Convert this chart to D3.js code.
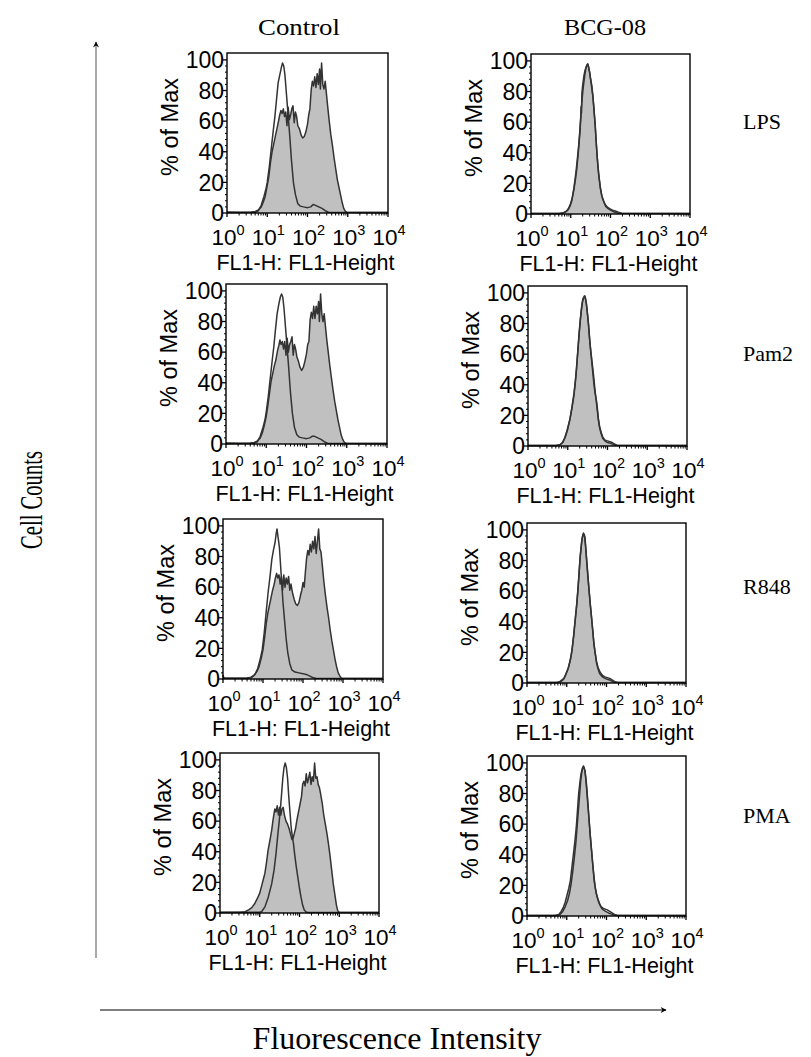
<!DOCTYPE html>
<html><head><meta charset="utf-8">
<script src="https://cdn.jsdelivr.net/npm/d3@7"></script>
<style>body{margin:0;background:#fff;} svg{display:block;}</style>
</head><body>
<svg id="chart" width="811" height="1057"></svg>
<script>
// ---------------- data ----------------
const columns = ["Control", "BCG-08"];
const rowLabels = ["LPS", "Pam2", "R848", "PMA"];
const yTicks = [0, 20, 40, 60, 80, 100];
const xTickExponents = [0, 1, 2, 3, 4];
const xAxisTitle = "FL1-H: FL1-Height";
const yAxisTitle = "% of Max";
const leftTitle = "Cell Counts";
const bottomTitle = "Fluorescence Intensity";

// each series: [log10 FL1-H, % of max]
const lpsControlShaded = [[0,0.6],[0.3,0.5],[0.6,0.6],[0.7,1],[0.78,2],[0.85,4],[0.9,7],[0.95,11],[1.0,18],[1.04,24],[1.08,33],[1.12,40],[1.16,45],[1.2,50],[1.24,55],[1.28,60],[1.31,64],[1.34,67],[1.37,65],[1.4,68],[1.43,63],[1.46,66],[1.49,57],[1.52,69],[1.55,61],[1.58,64],[1.61,68],[1.64,70],[1.67,59],[1.7,66],[1.73,63],[1.76,57],[1.8,55],[1.84,51],[1.88,49],[1.92,50],[1.96,53],[2.0,58],[2.03,64],[2.06,68],[2.09,80],[2.12,86],[2.15,83],[2.18,89],[2.21,82],[2.24,91],[2.27,84],[2.3,94],[2.32,81],[2.35,98],[2.38,84],[2.41,81],[2.44,86],[2.47,78],[2.5,70],[2.54,60],[2.58,51],[2.62,44],[2.66,36],[2.7,29],[2.74,22],[2.78,17],[2.82,12],[2.86,7],[2.9,3],[2.94,1],[2.98,0.5],[3.3,0.4],[4,0.4]];
const lpsControlOpen = [[0,0.4],[0.7,0.5],[0.78,1.5],[0.85,5],[0.92,11],[0.97,16],[1.0,20],[1.05,30],[1.1,42],[1.15,54],[1.19,63],[1.23,74],[1.27,85],[1.31,90],[1.35,95],[1.38,98],[1.41,96],[1.44,90],[1.47,80],[1.5,70],[1.53,60],[1.56,50],[1.6,35],[1.65,20],[1.7,12],[1.76,6],[1.82,4.5],[1.9,4],[2.0,3.5],[2.08,4],[2.14,5.5],[2.2,5],[2.28,4],[2.36,3],[2.44,1.5],[2.52,0.5],[4,0.4]];

const pam2ControlShaded = [[0,0.6],[0.3,0.5],[0.6,0.6],[0.7,1],[0.78,2],[0.85,4],[0.9,7],[0.95,12],[1.0,18],[1.04,25],[1.08,33],[1.12,41],[1.16,46],[1.2,51],[1.24,55],[1.28,61],[1.31,64],[1.34,68],[1.37,65],[1.4,67],[1.43,62],[1.46,67],[1.49,58],[1.52,69],[1.55,60],[1.58,65],[1.61,67],[1.64,70],[1.67,58],[1.7,65],[1.73,62],[1.76,57],[1.8,54],[1.84,50],[1.88,48],[1.92,50],[1.96,54],[2.0,59],[2.03,65],[2.06,67],[2.09,81],[2.12,86],[2.15,82],[2.18,90],[2.21,82],[2.24,90],[2.27,85],[2.3,93],[2.32,80],[2.35,98],[2.38,85],[2.41,80],[2.44,85],[2.47,77],[2.5,69],[2.54,60],[2.58,51],[2.62,43],[2.66,35],[2.7,28],[2.74,22],[2.78,16],[2.82,11],[2.86,6],[2.9,3],[2.94,1],[2.98,0.5],[3.3,0.4],[4,0.4]];
const pam2ControlOpen = [[0,0.4],[0.7,0.5],[0.78,1.5],[0.85,5],[0.92,11],[0.97,16],[1.0,21],[1.05,31],[1.1,43],[1.15,55],[1.19,64],[1.23,75],[1.27,85],[1.31,91],[1.35,96],[1.38,98],[1.41,96],[1.44,89],[1.47,79],[1.5,69],[1.53,59],[1.56,49],[1.6,34],[1.65,20],[1.7,11],[1.76,6],[1.82,4.5],[1.9,4],[2.0,3.5],[2.08,4],[2.14,5],[2.2,5],[2.28,4],[2.36,3],[2.44,1.5],[2.52,0.5],[4,0.4]];

const r848ControlShaded = [[0,2.5],[0.02,0.6],[0.3,0.5],[0.6,0.6],[0.7,1.2],[0.78,2.5],[0.85,5],[0.9,8],[0.95,13],[1.0,19],[1.04,27],[1.08,36],[1.12,43],[1.16,48],[1.2,53],[1.24,58],[1.28,62],[1.31,66],[1.34,69],[1.37,66],[1.4,68],[1.43,62],[1.46,67],[1.49,58],[1.52,68],[1.55,60],[1.58,66],[1.61,62],[1.64,67],[1.67,58],[1.7,62],[1.74,56],[1.78,52],[1.82,49],[1.86,48],[1.9,50],[1.94,55],[1.97,58],[2.0,63],[2.03,60],[2.06,70],[2.09,79],[2.12,84],[2.15,81],[2.18,88],[2.21,83],[2.24,90],[2.27,85],[2.3,93],[2.33,82],[2.36,90],[2.39,98],[2.42,85],[2.45,83],[2.48,75],[2.52,64],[2.56,55],[2.6,47],[2.64,40],[2.68,32],[2.72,25],[2.76,19],[2.8,13],[2.84,8],[2.88,4],[2.92,2],[2.96,0.5],[3.3,0.4],[4,0.4]];
const r848ControlOpen = [[0,2.5],[0.02,0.5],[0.6,0.5],[0.72,1],[0.8,3],[0.87,7],[0.93,13],[0.98,19],[1.03,30],[1.08,44],[1.13,57],[1.18,68],[1.22,78],[1.26,84],[1.3,89],[1.33,95],[1.35,98],[1.38,92],[1.41,86],[1.44,74],[1.47,62],[1.5,50],[1.54,38],[1.58,26],[1.62,17],[1.67,10],[1.72,6],[1.8,4.5],[1.9,4],[2.0,3.5],[2.08,3],[2.16,2],[2.24,1],[2.32,0.5],[4,0.4]];

const pmaControlShaded = [[0,0.5],[0.5,0.5],[0.63,0.8],[0.72,2],[0.8,3.5],[0.87,6],[0.93,9],[1.0,13],[1.06,19],[1.13,26],[1.17,33],[1.21,41],[1.26,48],[1.3,54],[1.33,60],[1.36,65],[1.38,68],[1.41,66],[1.44,70],[1.47,64],[1.5,69],[1.53,64],[1.56,68],[1.59,69],[1.62,64],[1.66,60],[1.7,58],[1.74,55],[1.78,51],[1.81,48],[1.84,49],[1.87,52],[1.9,55],[1.93,60],[1.96,64],[1.99,68],[2.02,72],[2.05,76],[2.08,84],[2.11,86],[2.14,83],[2.17,91],[2.2,85],[2.23,88],[2.26,92],[2.29,84],[2.32,89],[2.35,86],[2.38,98],[2.41,88],[2.44,89],[2.47,84],[2.5,82],[2.53,78],[2.57,72],[2.61,64],[2.65,58],[2.69,52],[2.73,45],[2.77,37],[2.81,28],[2.85,19],[2.89,12],[2.93,5],[2.96,1.5],[3.0,0.5],[4,0.4]];
const pmaControlOpen = [[0,0.4],[1.0,0.5],[1.05,1],[1.13,4],[1.21,10],[1.3,19],[1.36,28],[1.41,39],[1.45,50],[1.49,60],[1.52,68],[1.55,78],[1.58,88],[1.61,95],[1.64,98],[1.67,95],[1.7,88],[1.73,76],[1.76,66],[1.79,56],[1.82,50],[1.85,45],[1.88,38],[1.92,30],[1.96,23],[2.0,16],[2.04,10],[2.08,5],[2.12,2],[2.16,0.8],[2.2,0.4],[4,0.4]];

const lpsBcgShaded = [[0,0.4],[0.7,0.4],[0.81,0.8],[0.88,1.5],[0.94,3],[0.98,5],[1.02,8],[1.05,12],[1.08,16],[1.12,23],[1.15,29],[1.19,40],[1.23,53],[1.27,70],[1.3,79],[1.32,84],[1.35,90],[1.38,95],[1.4,97],[1.43,98],[1.45,96],[1.48,92],[1.51,86],[1.53,82],[1.56,76],[1.59,66],[1.62,56],[1.65,43],[1.68,32],[1.71,24],[1.75,16],[1.79,11],[1.83,8],[1.88,5],[1.94,3.5],[2.0,2.5],[2.07,1.5],[2.14,1],[2.2,0.5],[4,0.4]];
const lpsBcgOpen = [[0,0.4],[0.75,0.4],[0.84,1],[0.9,2],[0.95,4],[1.0,7],[1.04,11],[1.08,17],[1.13,27],[1.17,37],[1.2,45],[1.23,55],[1.25,63],[1.26,70],[1.27,66],[1.28,79],[1.3,84],[1.33,90],[1.36,94],[1.39,96],[1.42,98],[1.44,97],[1.47,93],[1.5,88],[1.53,84],[1.55,79],[1.58,70],[1.61,60],[1.64,47],[1.67,36],[1.7,27],[1.74,18],[1.78,12],[1.82,9],[1.87,6],[1.92,4.5],[1.98,3.5],[2.05,2.5],[2.12,2],[2.2,1.2],[2.28,0.5],[4,0.4]];

const pam2BcgShaded = [[0,0.4],[0.7,0.4],[0.8,0.8],[0.86,2],[0.92,5],[0.98,10],[1.05,17],[1.1,24],[1.15,32],[1.19,41],[1.22,50],[1.25,61],[1.28,72],[1.31,81],[1.34,89],[1.36,93],[1.38,96],[1.41,97],[1.43,98],[1.45,96],[1.47,93],[1.49,88],[1.51,83],[1.53,77],[1.55,70],[1.58,62],[1.62,53],[1.65,46],[1.68,38],[1.71,31],[1.74,24],[1.77,17],[1.8,12],[1.84,8],[1.88,5],[1.93,3.5],[1.98,2.5],[2.05,2],[2.12,1.2],[2.2,0.5],[4,0.4]];
const pam2BcgOpen = [[0,0.4],[0.72,0.4],[0.82,1],[0.88,2.5],[0.94,6],[1.0,11],[1.06,18],[1.11,26],[1.16,35],[1.2,45],[1.23,54],[1.26,64],[1.29,74],[1.32,83],[1.35,90],[1.37,94],[1.4,97],[1.42,98],[1.44,97],[1.46,94],[1.48,90],[1.5,85],[1.52,80],[1.54,73],[1.57,64],[1.6,56],[1.63,48],[1.66,40],[1.69,34],[1.72,30],[1.74,26],[1.77,18],[1.8,13],[1.84,9],[1.88,6],[1.93,4],[1.98,3.5],[2.04,3],[2.1,2.5],[2.16,1.5],[2.24,0.5],[4,0.4]];

const r848BcgShaded = [[0,0.4],[0.75,0.4],[0.83,1],[0.88,2],[0.93,3],[0.98,6],[1.04,10],[1.09,15],[1.13,21],[1.17,30],[1.21,41],[1.25,51],[1.28,60],[1.31,71],[1.33,80],[1.36,88],[1.38,93],[1.4,96],[1.42,98],[1.44,97],[1.46,95],[1.48,88],[1.5,80],[1.53,70],[1.57,58],[1.6,49],[1.63,41],[1.66,33],[1.68,26],[1.72,19],[1.75,13],[1.79,9],[1.83,6],[1.9,4],[1.96,3],[2.02,2.5],[2.08,2],[2.15,1],[2.21,0.5],[4,0.4]];
const r848BcgOpen = [[0,0.4],[0.78,0.4],[0.86,1],[0.92,2.5],[0.97,5],[1.03,9],[1.08,14],[1.13,21],[1.17,30],[1.21,40],[1.25,51],[1.28,61],[1.31,72],[1.34,83],[1.37,91],[1.39,95],[1.41,97],[1.43,97],[1.45,95],[1.47,90],[1.5,81],[1.53,71],[1.56,61],[1.59,52],[1.62,44],[1.65,35],[1.68,27],[1.71,20],[1.75,14],[1.79,10],[1.84,7],[1.9,5],[1.96,4],[2.02,3.5],[2.08,3],[2.14,2],[2.2,1],[2.28,0.4],[4,0.4]];

const pmaBcgShaded = [[0,0.4],[0.7,0.4],[0.8,1],[0.86,3],[0.92,6],[0.96,9],[1.0,13],[1.05,18],[1.09,23],[1.13,32],[1.17,41],[1.21,50],[1.24,58],[1.27,69],[1.3,80],[1.33,87],[1.36,93],[1.39,96],[1.42,97],[1.44,96],[1.46,95],[1.49,88],[1.51,82],[1.54,71],[1.57,60],[1.6,50],[1.63,41],[1.66,32],[1.69,23],[1.72,18],[1.76,13],[1.8,10],[1.84,7],[1.88,5],[1.92,4],[1.98,3],[2.05,2],[2.13,1.2],[2.22,0.5],[4,0.4]];
const pmaBcgOpen = [[0,0.4],[0.75,0.4],[0.83,1],[0.9,3],[0.96,6],[1.02,10],[1.07,15],[1.11,21],[1.15,29],[1.19,38],[1.23,48],[1.26,58],[1.29,68],[1.32,78],[1.35,88],[1.38,94],[1.4,97],[1.42,98],[1.44,97],[1.46,94],[1.48,89],[1.5,83],[1.53,73],[1.56,63],[1.59,53],[1.62,44],[1.65,35],[1.68,27],[1.71,20],[1.74,15],[1.78,11],[1.82,8],[1.87,6],[1.92,5],[1.97,4.5],[2.02,4],[2.08,3],[2.14,2],[2.2,1],[2.28,0.4],[4,0.4]];

const panelSeries = [
  [[lpsControlShaded, lpsControlOpen], [lpsBcgShaded, lpsBcgOpen]],
  [[pam2ControlShaded, pam2ControlOpen], [pam2BcgShaded, pam2BcgOpen]],
  [[r848ControlShaded, r848ControlOpen], [r848BcgShaded, r848BcgOpen]],
  [[pmaControlShaded, pmaControlOpen], [pmaBcgShaded, pmaBcgOpen]]
];

// ---------------- layout ----------------
const panelLayout = [
  [{x:227, y:213, w:161}, {x:531, y:214, w:159}],
  [{x:226, y:444, w:161}, {x:528, y:446, w:159}],
  [{x:223, y:679, w:160}, {x:527, y:683, w:159}],
  [{x:220, y:913, w:159}, {x:527, y:916, w:159}]
];
const PH = 160;
const sansFont = "'Liberation Sans', Arial, sans-serif";
const serifFont = "'Liberation Serif', 'Times New Roman', serif";
const lineColor = "#333333";

const svg = d3.select("#chart");

function drawPanel(r, c) {
  const L = panelLayout[r][c];
  const [shaded, open] = panelSeries[r][c];
  const g = svg.append("g").attr("transform", `translate(${L.x},${L.y - PH})`);
  const x = d3.scaleLog().domain([1, 1e4]).range([0, L.w]);
  const y = d3.scaleLinear().domain([0, 104.5]).range([PH, 0]);
  const px = d => x(Math.pow(10, d[0]));
  const area = d3.area().x(px).y0(y(0)).y1(d => y(d[1]));
  const line = d3.line().x(px).y(d => y(d[1]));

  g.append("path").datum(shaded).attr("d", area).attr("fill", "#c0c0c0").attr("stroke", "none");
  g.append("path").datum(shaded).attr("d", line).attr("fill", "none").attr("stroke", lineColor).attr("stroke-width", 1.5).attr("stroke-linejoin", "round");
  g.append("path").datum(open).attr("d", line).attr("fill", "none").attr("stroke", lineColor).attr("stroke-width", 1.5).attr("stroke-linejoin", "round");

  // frame
  g.append("rect").attr("x", 0).attr("y", 0).attr("width", L.w).attr("height", PH)
    .attr("fill", "none").attr("stroke", "#000").attr("stroke-width", 1.4);

  // y axis
  const yMinor = d3.range(0, 101, 4).filter(v => v % 20 !== 0);
  const ya = g.append("g");
  ya.selectAll("line.minor").data(yMinor).join("line")
    .attr("x1", -2).attr("x2", 0).attr("y1", d => y(d)).attr("y2", d => y(d))
    .attr("stroke", "#000").attr("stroke-width", 1);
  ya.selectAll("line.major").data(yTicks).join("line")
    .attr("x1", -4).attr("x2", 0).attr("y1", d => y(d)).attr("y2", d => y(d))
    .attr("stroke", "#000").attr("stroke-width", 1.3);
  ya.selectAll("text").data(yTicks).join("text")
    .attr("x", -3).attr("y", d => y(d)).attr("dy", "0.36em")
    .attr("text-anchor", "end").attr("font-family", sansFont).attr("font-size", 23)
    .text(d => d);
  g.append("text").attr("transform", `translate(-49,${PH / 2 - 6}) rotate(-90)`)
    .attr("text-anchor", "middle").attr("font-family", sansFont).attr("font-size", 23.5)
    .text(yAxisTitle);

  // x axis
  const xa = g.append("g").attr("transform", `translate(0,${PH})`);
  const minor = [];
  for (let e = 0; e < 4; e++) for (let m = 2; m <= 9; m++) minor.push(m * Math.pow(10, e));
  xa.selectAll("line.minor").data(minor).join("line")
    .attr("x1", d => x(d)).attr("x2", d => x(d)).attr("y1", 0).attr("y2", 2.5)
    .attr("stroke", "#000").attr("stroke-width", 1);
  xa.selectAll("line.major").data(xTickExponents).join("line")
    .attr("x1", d => x(Math.pow(10, d))).attr("x2", d => x(Math.pow(10, d))).attr("y1", 0).attr("y2", 4)
    .attr("stroke", "#000").attr("stroke-width", 1.3);
  const lbl = xa.selectAll("text.tl").data(xTickExponents).join("text")
    .attr("class", "tl")
    .attr("x", d => x(Math.pow(10, d)) + 1).attr("y", 32)
    .attr("text-anchor", "middle").attr("font-family", sansFont).attr("font-size", 22.5);
  lbl.append("tspan").text("10");
  lbl.append("tspan").attr("dy", -10).attr("font-size", 14.5).text(d => d);
  xa.append("text").attr("x", L.w / 2 - 2).attr("y", 57)
    .attr("text-anchor", "middle").attr("font-family", sansFont).attr("font-size", 21.5)
    .text(xAxisTitle);
}

for (let r = 0; r < 4; r++) for (let c = 0; c < 2; c++) drawPanel(r, c);

// column titles
const colX = [299, 605];
const colW = [82, 82];
svg.selectAll("text.col").data(columns).join("text")
  .attr("x", (d, i) => colX[i]).attr("y", 35)
  .attr("text-anchor", "middle").attr("font-family", serifFont).attr("font-size", 24)
  .attr("textLength", (d, i) => colW[i]).attr("lengthAdjust", "spacingAndGlyphs")
  .text(d => d);

// row labels
const rowY = [129, 361, 594, 823];
svg.selectAll("text.row").data(rowLabels).join("text")
  .attr("x", 743).attr("y", (d, i) => rowY[i])
  .attr("font-family", serifFont).attr("font-size", 22)
  .text(d => d);

// arrows
const defs = svg.append("defs");
defs.append("marker").attr("id", "ahV").attr("viewBox", "0 0 10 10").attr("refX", 9).attr("refY", 5)
  .attr("markerWidth", 9).attr("markerHeight", 6).attr("markerUnits", "userSpaceOnUse").attr("orient", "auto")
  .append("path").attr("d", "M0,0 L10,5 L0,10 L3,5 Z").attr("fill", "#000");
defs.append("marker").attr("id", "ahH").attr("viewBox", "0 0 10 10").attr("refX", 9).attr("refY", 5)
  .attr("markerWidth", 10).attr("markerHeight", 6).attr("markerUnits", "userSpaceOnUse").attr("orient", "auto")
  .append("path").attr("d", "M0,0 L10,5 L0,10 L3,5 Z").attr("fill", "#000");

svg.append("line").attr("x1", 96).attr("y1", 958).attr("x2", 96).attr("y2", 42)
  .attr("stroke", "#a8a8a8").attr("stroke-width", 2).attr("marker-end", "url(#ahV)");
svg.append("line").attr("x1", 100).attr("y1", 1010).attr("x2", 666).attr("y2", 1010)
  .attr("stroke", "#000").attr("stroke-width", 1).attr("marker-end", "url(#ahH)");

svg.append("text").attr("transform", "translate(42,500) rotate(-90)")
  .attr("text-anchor", "middle").attr("font-family", serifFont).attr("font-size", 31)
  .attr("textLength", 98).attr("lengthAdjust", "spacingAndGlyphs")
  .text(leftTitle);
svg.append("text").attr("x", 397).attr("y", 1049)
  .attr("text-anchor", "middle").attr("font-family", serifFont).attr("font-size", 32)
  .text(bottomTitle);
</script>
</body></html>
